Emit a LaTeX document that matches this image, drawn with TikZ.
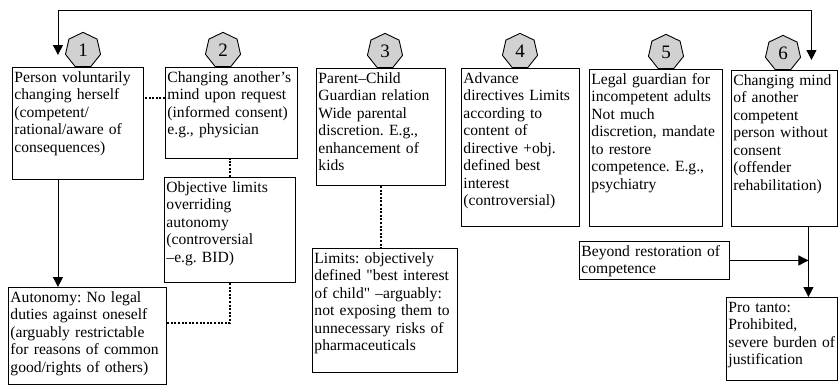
\documentclass[tikz,border=0pt]{standalone}
\usepackage{fontspec}
\setmainfont{Liberation Serif}
\usepackage{xcolor}
\usepackage{tikz}
\usetikzlibrary{shapes,arrows.meta,positioning}
\frenchspacing

\begin{document}
\begin{tikzpicture}[
    x=1pt, y=-1pt,
    block/.style={
        rectangle,
        draw,
        line width=0.9pt,
        anchor=north west,
        align=left,
        inner xsep=2pt,
        inner ysep=3pt,
        text height=12pt,
        font=\fontsize{15.6}{17.5}\selectfont
    },
    badge/.style={
        regular polygon,
        regular polygon sides=7,
        draw,
        line width=0.9pt,
        fill=black!18,
        minimum size=36pt,
        inner sep=0pt,
        font=\fontsize{19}{19}\selectfont
    },
    line/.style={
        draw, line width=0.9pt, -{Triangle[width=10pt,length=10pt]}
    },
    biline/.style={
        draw, line width=0.9pt,
        {Triangle[width=10pt,length=10pt]}-{Triangle[width=10pt,length=10pt]}
    },
    dotline/.style={
        draw, line width=1.2pt, dash pattern=on 2pt off 1.6pt
    }
]
    \useasboundingbox (0,0) rectangle (838,386);

    % Nodes
    \node [block, text width=127pt, text depth=94pt] (one) at (12,67)
        {Person voluntarily\\changing herself\\(competent/\\rational/aware of\\consequences)};
    \node [block, text width=128pt, text depth=73pt] (two) at (165,67)
        {Changing another’s\\mind upon request\\(informed consent)\\e.g., physician};
    \node [block, text width=127pt, text depth=87pt] (obj) at (164,177)
        {Objective limits\\overriding\\autonomy\\(controversial\\--e.g. BID)};
    \node [block, text width=125pt, text depth=99pt] (three) at (316,68)
        {Parent--Child\\Guardian relation\\Wide parental\\discretion. E.g.,\\enhancement of\\kids};
    \node [block, text width=114pt, text depth=140pt] (four) at (461,68)
        {Advance\\directives Limits\\according to\\content of\\directive +obj.\\defined best\\interest\\(controversial)};
    \node [block, text width=129pt, text depth=139pt] (five) at (589,69)
        {Legal guardian for\\incompetent adults\\Not much\\discretion, mandate\\to restore\\competence. E.g.,\\psychiatry};
    \node [block, text width=102pt, text depth=138pt] (six) at (731,70)
        {Changing~mind\\of another\\competent\\person without\\consent\\(offender\\rehabilitation)};
    \node [block, text width=141pt, text depth=106pt] (lim) at (312,248)
        {Limits: objectively\\defined \textquotedbl best interest\\of child\textquotedbl{} --arguably:\\not exposing them to\\unnecessary risks of\\pharmaceuticals};
    \node [block, text width=154pt, text depth=79pt] (auto) at (8,287)
        {Autonomy: No legal\\duties against oneself\\(arguably restrictable\\for reasons of common\\good/rights of others)};
    \node [block, text width=146pt, text depth=20pt] (beyond) at (579,241)
        {Beyond restoration of\\competence};
    \node [block, text width=107pt, text depth=65pt] (pro) at (726,297)
        {Pro tanto:\\Prohibited,\\severe burden of\\justification};

    % Badges
    \node [badge, above=0pt of one.north west, xshift=71pt] (n1) {1};
    \node [badge, above=0pt of two.north west, xshift=58pt] (n2) {2};
    \node [badge, above=0pt of three.north west, xshift=69pt] (n3) {3};
    \node [badge, above=0pt of four.north west, xshift=59pt] (n4) {4};
    \node [badge, above=0pt of five.north west, xshift=77pt] (n5) {5};
    \node [badge, above=0pt of six.north west, xshift=52pt] (n6) {6};

    \coordinate (loopL) at ([xshift=-20pt,yshift=12pt]one.north);
    \coordinate (loopR) at ([xshift=27pt,yshift=10pt]six.north);
    \coordinate (drop) at ([xshift=24pt]six.south);

    % Edges
    \path [biline] (loopL) -- ++(0,-45) -| (loopR);
    \path [line] ([xshift=-20pt]one.south) -- ([xshift=-20pt]one.south |- auto.north);
    \path [dotline] ([yshift=15pt]two.west) -- ([yshift=15pt]two.west -| one.east);
    \path [dotline] (obj.north) -- (obj.north |- two.south);
    \path [dotline] (obj.south) |- ([yshift=13pt]auto.east);
    \path [dotline] (three.south) -- (three.south |- lim.north);
    \path [line] (drop) -- (drop |- pro.north);
    \path [line] (beyond.east) -- (beyond.east -| drop);

\end{tikzpicture}
\end{document}
